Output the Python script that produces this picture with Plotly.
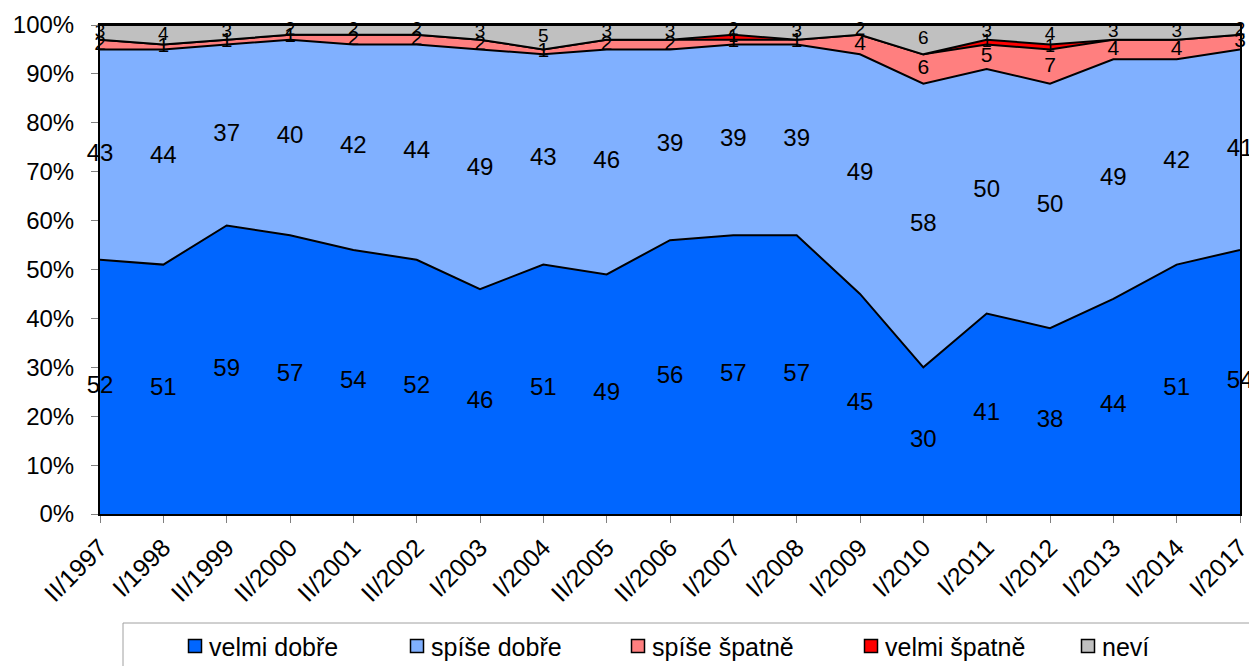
import numpy as np
import plotly.graph_objects as go

obdobi = ["II/1997", "I/1998", "II/1999", "II/2000", "II/2001", "II/2002", "I/2003", "I/2004",
          "II/2005", "II/2006", "I/2007", "I/2008", "I/2009", "I/2010", "I/2011", "I/2012",
          "I/2013", "I/2014", "I/2017"]

velmi_dobre = [52, 51, 59, 57, 54, 52, 46, 51, 49, 56, 57, 57, 45, 30, 41, 38, 44, 51, 54]
spise_dobre = [43, 44, 37, 40, 42, 44, 49, 43, 46, 39, 39, 39, 49, 58, 50, 50, 49, 42, 41]
spise_spatne = [2, 1, 1, 1, 2, 2, 2, 1, 2, 2, 1, 1, 4, 6, 5, 7, 4, 4, 3]
velmi_spatne = [0, 0, 0, 0, 0, 0, 0, 0, 0, 0, 1, 0, 0, 0, 1, 1, 0, 0, 0]
nevi = [3, 4, 3, 2, 2, 2, 3, 5, 3, 3, 2, 3, 2, 6, 3, 4, 3, 3, 2]

serie = [
    ("velmi dobře", velmi_dobre, "#0066FF", 24),
    ("spíše dobře", spise_dobre, "#80B0FF", 24),
    ("spíše špatně", spise_spatne, "#FF7F7F", 21),
    ("velmi špatně", velmi_spatne, "#FF0000", 18),
    ("neví", nevi, "#C0C0C0", 19),
]

# page body has an 8px margin, the figure is shifted by it
OFF = 8
L, R, T, B = 100, 1240, 25, 514   # plot area on screen


def px(sx):
    return (sx - L) / (R - L)


def py(sy):
    return (B - sy) / (B - T)


x = list(range(len(obdobi)))
fig = go.Figure()

dole = np.zeros(len(obdobi))
for name, vals, col, fs in serie:
    vals = np.array(vals, dtype=float)
    fig.add_trace(go.Scatter(x=x, y=vals, name=name, stackgroup="one", mode="lines",
                             line=dict(color="black", width=2), fillcolor=col,
                             showlegend=False))
    stred = dole + vals / 2
    txt = [str(int(v)) if v > 0 else "" for v in vals]
    fig.add_trace(go.Scatter(x=x, y=stred, mode="text", text=txt, showlegend=False,
                             textfont=dict(size=fs, color="black", family="Liberation Sans"),
                             cliponaxis=False, hoverinfo="skip"))
    dole = dole + vals

# legend drawn by hand: box, small squares, texts
shapes = [dict(type="rect", xref="paper", yref="paper", x0=px(123), x1=px(1250),
               y0=py(623), y1=py(700), line=dict(color="#A0A0A0", width=1))]
annotations = []
leg_px = [195, 417, 638, 871, 1088]
leg_y = 646
for i, (name, vals, col, fs) in enumerate(serie):
    cx = leg_px[i]
    shapes.append(dict(type="rect", xref="paper", yref="paper",
                       x0=px(cx - 6.5), x1=px(cx + 6.5), y0=py(leg_y + 6.5), y1=py(leg_y - 6.5),
                       fillcolor=col, line=dict(color="black", width=1.5)))
    annotations.append(dict(xref="paper", yref="paper", x=px(cx + 12), y=py(leg_y + 1),
                            xanchor="left", yanchor="middle", text=name, showarrow=False,
                            font=dict(size=25, family="Liberation Sans", color="black")))

fig.update_layout(
    width=1257, height=666,
    margin=dict(l=L - OFF, r=1257 - R + OFF, t=T - OFF, b=666 - B + OFF),
    plot_bgcolor="white", paper_bgcolor="white",
    font=dict(family="Liberation Sans", size=24, color="black"),
    showlegend=False,
    shapes=shapes,
    annotations=annotations,
)
fig.update_xaxes(range=[0, len(obdobi) - 1], tickvals=x, ticktext=obdobi, tickangle=-45,
                 showgrid=False, zeroline=False, showline=True, linecolor="black",
                 linewidth=2, mirror=True, ticks="outside", ticklen=7, tickcolor="#808080",
                 tickfont=dict(size=25), automargin=False)
fig.update_yaxes(range=[0, 100], dtick=10, ticksuffix="%", showgrid=False, zeroline=False,
                 showline=True, linecolor="black", linewidth=2, mirror=True,
                 ticks="outside", ticklen=7, tickcolor="#808080", tickfont=dict(size=24),
                 ticklabelstandoff=12, automargin=False)

fig.write_html("out.html")
